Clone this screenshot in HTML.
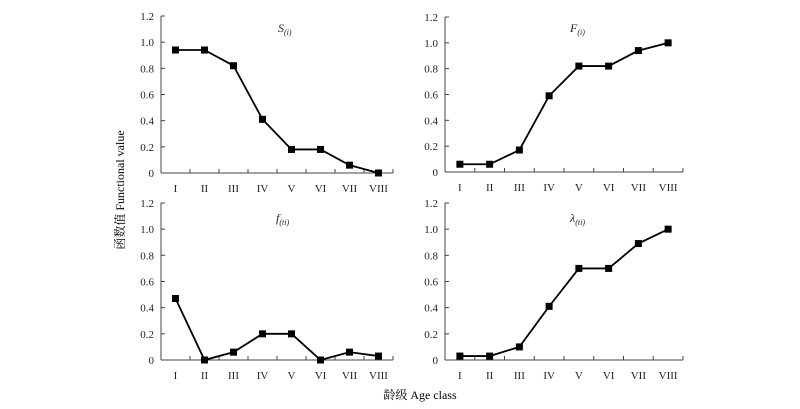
<!DOCTYPE html>
<html><head><meta charset="utf-8"><style>
html,body{margin:0;padding:0;background:#fff;}
svg{display:block;font-family:"Liberation Serif","Noto Serif CJK SC",serif;}
</style></head><body>
<svg id="chart" width="800" height="409" viewBox="0 0 800 409">
<text x="124" y="190" font-size="12" text-anchor="middle" transform="rotate(-90 124 190)">函数值 Functional value</text>
<text x="420" y="399" font-size="12" text-anchor="middle">龄级 Age class</text>
</svg>
<script>
const categories=["I","II","III","IV","V","VI","VII","VIII"];
const yTicks=[0,0.2,0.4,0.6,0.8,1.0,1.2];
const yTickLabels=["0","0.2","0.4","0.6","0.8","1.0","1.2"];
const sValues=[0.94,0.94,0.82,0.41,0.18,0.18,0.06,0.0];
const FValues=[0.06,0.06,0.17,0.59,0.82,0.82,0.94,1.0];
const fValues=[0.47,0.0,0.06,0.2,0.2,0.0,0.06,0.03];
const lambdaValues=[0.03,0.03,0.1,0.41,0.7,0.7,0.89,1.0];
const NS="http://www.w3.org/2000/svg";
const svg=document.getElementById('chart');
function mk(tag,attrs,parent){const e=document.createElementNS(NS,tag);for(const k in attrs)e.setAttribute(k,attrs[k]);(parent||svg).appendChild(e);return e;}
const panels=[
 {x0:161,x1:393,y0:173,y1:16,vals:sValues,title:"S",sub:"(i)",tx:278,ty:32,name:"s-panel"},
 {x0:445,x1:683,y0:172,y1:17,vals:FValues,title:"F",sub:"(i)",tx:570,ty:32,name:"F-panel"},
 {x0:161,x1:393,y0:360,y1:203,vals:fValues,title:"f",sub:"(ti)",tx:276,ty:222,name:"f-panel"},
 {x0:445,x1:683,y0:360,y1:203,vals:lambdaValues,title:"λ",sub:"(ti)",tx:570,ty:222,name:"lambda-panel"}
];
panels.forEach(p=>{
 const g=mk('g',{});
 
 
 const bw=(p.x1-p.x0)/categories.length;
 const xs=i=>p.x0+bw*(i+0.5);
 const ys=v=>p.y0-(v/1.2)*(p.y0-p.y1);
 const ya=mk('line',{x1:p.x0,y1:p.y0,x2:p.x0,y2:p.y1,stroke:'#444','stroke-width':1},g);
 
 
 const xa=mk('line',{x1:p.x0,y1:p.y0,x2:p.x1,y2:p.y0,stroke:'#444','stroke-width':1},g);
 
 
 yTicks.forEach((t,i)=>{
  const y=ys(t);
  mk('line',{x1:p.x0,y1:y,x2:p.x0+4,y2:y,stroke:'#444'},g);
  const tl=mk('text',{x:p.x0-7,y:y+4,'font-size':11,'text-anchor':'end',fill:'#222'},g);
  tl.textContent=yTickLabels[i];
  
  
 });
 for(let i=1;i<=categories.length;i++){const x=p.x0+bw*i;mk('line',{x1:x,y1:p.y0,x2:x,y2:p.y0-4,stroke:'#444'},g);}
 categories.forEach((c,i)=>{
  const tl=mk('text',{x:xs(i),y:p.y0+19,'font-size':11,'text-anchor':'middle',fill:'#222'},g);
  tl.textContent=c;
  
  
 });
 const pts=p.vals.map((v,i)=>xs(i)+','+ys(v)).join(' ');
 const line=mk('polyline',{points:pts,fill:'none',stroke:'#000','stroke-width':1.8},g);
 
 
 p.vals.forEach((v,i)=>{
  const m=mk('rect',{x:xs(i)-3.5,y:ys(v)-3.5,width:7,height:7,fill:'#000'},g);
  
  
 });
 const t=mk('text',{x:p.tx,y:p.ty,'font-size':12,'font-style':'italic',fill:'#222'},g);
 
 
 t.textContent=p.title;
 const s=mk('tspan',{'font-size':8,dy:3},t);
 s.textContent=p.sub;
});
</script>
</body></html>
